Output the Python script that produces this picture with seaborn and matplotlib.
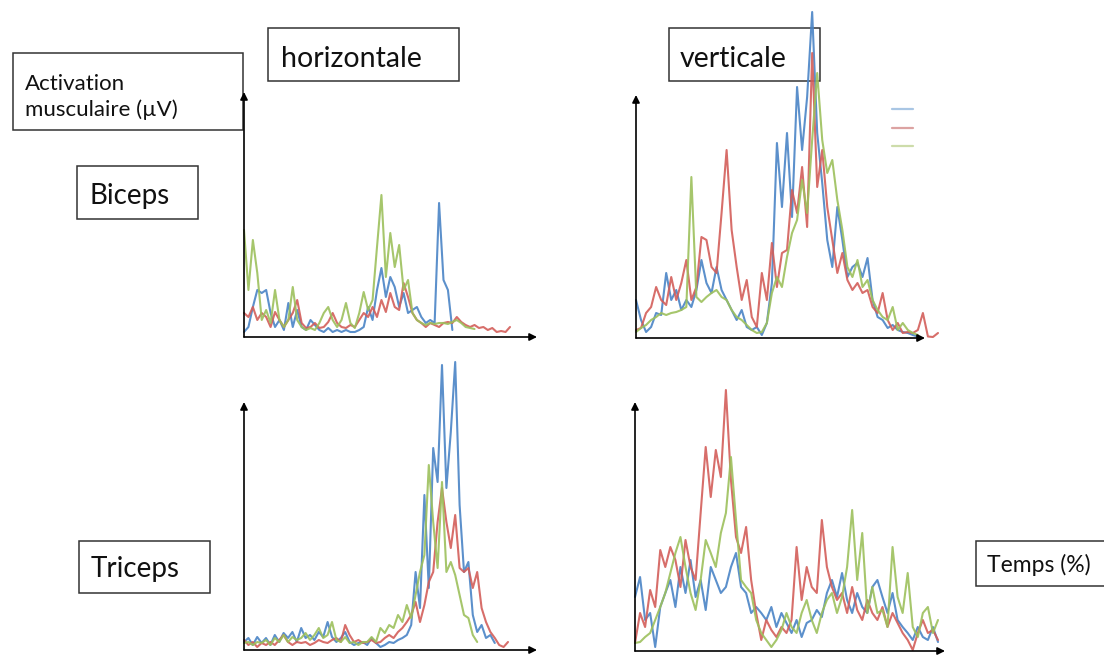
import numpy as np
import pandas as pd
import seaborn as sns
import matplotlib.pyplot as plt
from matplotlib.patches import Rectangle

# activation traces (arbitrary units), 61 samples over the movement time,
# shorter lists stop before the end of the movement
series_names = ['S1', 'S2', 'S3']
palette = {'S1': '#4a84c6', 'S2': '#d35e5a', 'S3': '#9dc05c'}

biceps_h_blue = [5, 10, 30, 47, 44, 47, 24, 10, 17, 7, 34, 10, 27, 10, 7, 17, 12, 7, 5, 9,
                 5, 7, 5, 7, 5, 5, 7, 10, 30, 17, 47, 69, 40, 60, 50, 30, 44, 24, 27, 30,
                 20, 14, 17, 14, 134, 57, 47, 7]
biceps_h_red = [24, 20, 30, 17, 24, 20, 10, 25, 17, 10, 17, 24, 37, 14, 9, 10, 14, 9, 10, 15,
                24, 14, 10, 9, 12, 10, 17, 24, 20, 30, 20, 37, 25, 44, 30, 27, 54, 40, 24, 17,
                14, 10, 14, 12, 10, 14, 15, 14, 20, 15, 12, 10, 12, 9, 10, 7, 9, 5, 6, 5, 10]
biceps_h_green = [107, 47, 97, 64, 17, 27, 14, 47, 17, 10, 17, 50, 17, 10, 7, 9, 7, 14, 24, 30,
                  17, 10, 17, 34, 14, 9, 24, 45, 27, 37, 90, 142, 60, 104, 70, 92, 47, 57, 24, 17,
                  14, 12, 14, 13, 14, 14, 13, 15, 17, 14, 10, 9, 8]

biceps_v_blue = [38, 18, 6, 11, 25, 23, 65, 38, 48, 28, 38, 31, 48, 78, 55, 45, 71, 48, 38, 28,
                 18, 28, 11, 8, 11, 3, 15, 55, 195, 131, 205, 121, 251, 188, 241, 326, 205, 155, 98, 71,
                 131, 98, 61, 71, 75, 61, 80, 38, 21, 18, 10, 13, 8, 6, 5, 3, 1.5]
biceps_v_red = [8, 10, 25, 31, 51, 38, 33, 61, 38, 55, 78, 38, 51, 101, 98, 71, 65, 125, 188, 108,
                71, 38, 58, 21, 11, 65, 38, 95, 51, 85, 88, 148, 125, 171, 111, 285, 151, 188, 131, 98,
                65, 85, 58, 48, 55, 45, 48, 31, 25, 45, 18, 8, 15, 5, 6, 5, 8, 25, 1.5, 1, 5]
biceps_v_green = [6, 10, 13, 18, 21, 25, 23, 25, 26, 28, 31, 161, 41, 36, 41, 45, 48, 41, 38, 28,
                  21, 18, 13, 8, 5, 6, 15, 45, 61, 51, 81, 105, 118, 158, 125, 198, 265, 198, 165, 178,
                  138, 108, 71, 61, 78, 51, 58, 38, 28, 21, 18, 31, 8, 15, 8, 5, 3]

triceps_h_blue = [8, 12, 5, 13, 7, 12, 5, 15, 8, 17, 12, 18, 8, 22, 12, 15, 10, 18, 13, 28,
                  13, 8, 12, 18, 8, 5, 7, 8, 5, 12, 7, 3, 5, 8, 7, 10, 12, 15, 25, 78,
                  42, 155, 62, 202, 168, 285, 162, 218, 288, 145, 78, 88, 35, 18, 25, 12, 15, 7]
triceps_h_red = [10, 5, 8, 3, 7, 5, 8, 5, 10, 15, 8, 5, 8, 7, 8, 5, 7, 10, 8, 7,
                 10, 12, 8, 25, 15, 8, 10, 7, 8, 10, 7, 8, 12, 15, 12, 18, 22, 28, 35, 48,
                 28, 45, 68, 78, 128, 162, 128, 102, 135, 82, 78, 82, 62, 78, 42, 28, 18, 12, 5, 3, 8]
triceps_h_green = [7, 8, 5, 8, 7, 10, 5, 12, 8, 15, 8, 13, 10, 12, 17, 10, 15, 22, 12, 15,
                   28, 10, 8, 13, 7, 8, 5, 8, 8, 13, 8, 22, 17, 25, 22, 35, 28, 45, 32, 55,
                   78, 95, 185, 128, 82, 168, 78, 88, 75, 55, 35, 32, 15, 8]

triceps_v_blue = [54, 74, 31, 38, 4, 44, 58, 71, 44, 84, 58, 91, 54, 71, 41, 84, 71, 58, 64, 84,
                  98, 64, 58, 38, 44, 38, 31, 44, 24, 38, 28, 18, 31, 14, 28, 31, 41, 34, 58, 71,
                  54, 78, 51, 38, 58, 44, 38, 64, 71, 54, 38, 58, 31, 24, 18, 11, 24, 14, 11, 24, 9]
triceps_v_red = [8, 38, 24, 61, 44, 101, 84, 104, 91, 64, 111, 84, 71, 138, 204, 154, 201, 174, 261, 171,
                 114, 98, 124, 71, 38, 11, 31, 21, 14, 24, 18, 31, 104, 51, 84, 64, 58, 131, 84, 64,
                 51, 58, 38, 64, 41, 31, 51, 38, 31, 44, 24, 38, 28, 18, 11, 1, 18, 31, 18, 21, 11]
triceps_v_green = [8, 9, 14, 18, 31, 44, 58, 78, 98, 114, 84, 58, 41, 71, 111, 98, 84, 118, 138, 194,
                   131, 71, 64, 58, 31, 18, 11, 4, 11, 21, 38, 24, 18, 38, 51, 31, 18, 38, 51, 58,
                   38, 54, 84, 141, 71, 118, 38, 64, 38, 41, 24, 104, 54, 38, 78, 24, 14, 38, 44, 18, 31]

n_samples = 61
temps = np.linspace(0, 100, n_samples)


def panel_frame(blue, red, green):
    parts = []
    for name, vals in zip(series_names, (blue, red, green)):
        parts.append(pd.DataFrame({'temps': temps[:len(vals)], 'activation': vals, 'serie': name}))
    return pd.concat(parts, ignore_index=True)


# (data, axis origin px, arrow lengths px (w, h), trace span px)
panels = [
    (panel_frame(biceps_h_blue, biceps_h_red, biceps_h_green), (244, 337), (293, 245), 266),
    (panel_frame(biceps_v_blue, biceps_v_red, biceps_v_green), (636, 338), (289, 243), 302),
    (panel_frame(triceps_h_blue, triceps_h_red, triceps_h_green), (244, 650), (293, 248), 264),
    (panel_frame(triceps_v_blue, triceps_v_red, triceps_v_green), (635, 651), (310, 249), 303),
]

sns.set_theme(style='white')
plt.rcParams['font.family'] = ['Lato', 'DejaVu Sans']

W, H = 1104, 656
fig = plt.figure(figsize=(W / 100, H / 100), dpi=100)

# background layer for the labelled boxes
bg = fig.add_axes([0, 0, 1, 1], zorder=-1)
bg.set_xlim(0, W)
bg.set_ylim(H, 0)
bg.set_axis_off()

boxes = [
    ((13, 53, 230, 77), 'Activation\nmusculaire (µV)', (25, 97), 16, 'center'),
    ((268, 28, 191, 53), 'horizontale', (281, 67), 20.5, 'baseline'),
    ((669, 28, 151, 53), 'verticale', (680, 67), 20.5, 'baseline'),
    ((77, 166, 121, 53), 'Biceps', (89, 204), 20, 'baseline'),
    ((79, 541, 131, 52), 'Triceps', (91, 577), 20, 'baseline'),
    ((976, 541, 140, 45), 'Temps (%)', (987, 572), 16.5, 'baseline'),
]
for (x, y, w, h), label, (tx, ty), fs, va in boxes:
    bg.add_patch(Rectangle((x, y), w, h, fc='white', ec='#333333', lw=1.1))
    bg.text(tx, ty, label, fontsize=fs, va=va, ha='left', color='#111111', linespacing=1.35)

# faint legend keys next to the vertical biceps panel
for yy, col in zip([109, 128, 146], ['#a9c6e4', '#dca3a2', '#cddcaa']):
    bg.plot([892, 913], [yy, yy], color=col, lw=1.6)

for df, (x0, y0), (aw, ah), span in panels:
    ax = fig.add_axes([x0 / W, (H - y0) / H, aw / W, ah / H])
    sns.lineplot(data=df, x='temps', y='activation', hue='serie', palette=palette,
                 estimator=None, sort=False, legend=False, lw=1.5, alpha=0.9,
                 clip_on=False, ax=ax)
    ax.set_xlim(0, 100 * aw / span)
    ax.set_ylim(0, ah)
    ax.set_axis_off()
    arrow = dict(arrowstyle='-|>', color='black', lw=1.2, mutation_scale=11, shrinkA=0, shrinkB=0)
    ax.annotate('', xy=(1, 0), xytext=(0, 0), xycoords='axes fraction', arrowprops=arrow)
    ax.annotate('', xy=(0, 1), xytext=(0, 0), xycoords='axes fraction', arrowprops=arrow)

fig.savefig('out.png', dpi=100)
